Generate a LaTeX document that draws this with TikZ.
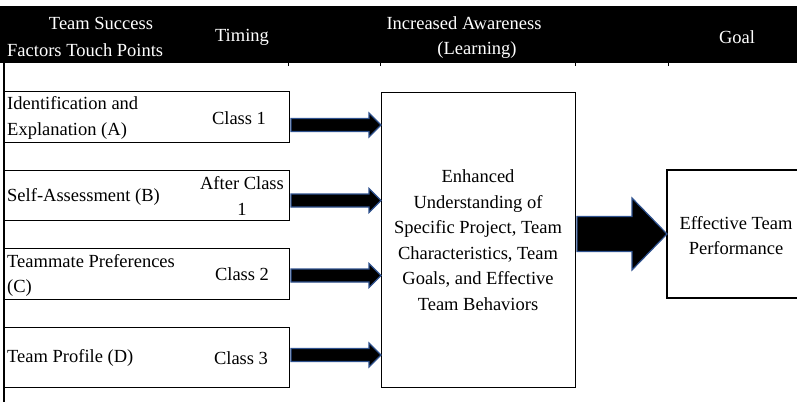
\documentclass[tikz,border=0pt]{standalone}
\usepackage{fontspec}
\setmainfont{Liberation Serif}
\definecolor{arrblue}{HTML}{2F528F}
\tikzset{
  every node/.style={font=\fontsize{18.5}{25.5}\selectfont, inner sep=0pt},
  box/.style={draw=black, line width=1.3pt},
  hdr/.style={text=white},
  fat/.style={fill=black, draw=arrblue, line width=1.2pt, line join=miter},
  tick/.style={draw=black, line width=0.9pt},
}
% x0 x1 y shafthalf headhalf headlen
\newcommand{\myfatarr}[6]{%
  \draw[fat] ({#1},{#3-#4}) -- ({#2-#6},{#3-#4}) -- ({#2-#6},{#3-#5}) -- ({#2},{#3})
    -- ({#2-#6},{#3+#5}) -- ({#2-#6},{#3+#4}) -- ({#1},{#3+#4}) -- cycle;}
\begin{document}
\begin{tikzpicture}[x=1pt,y=-1pt]
\useasboundingbox (0,0) rectangle (797,402);
% header band
\fill[black] (0,6) rectangle (797,63);
\node[hdr] (h1) at (101,23) {Team Success};
\node[hdr, anchor=west] (h2) at (7,50) {Factors Touch Points};
\node[hdr] (h3) at (242,37) {Timing};
\node[hdr] (h4) at (464,23) {Increased Awareness};
\node[hdr] (h5) at (477,50) {(Learning)};
\node[hdr] (h6) at (737,37) {Goal};
% table ticks and left rule
\draw[tick] (288,63) -- (288,66);
\draw[tick] (380,63) -- (380,66);
\draw[tick] (575,63) -- (575,66);
\draw[tick] (668,63) -- (668,66);
\draw[box] (4,63) -- (4,402);
% left boxes
\node[box, minimum width=285pt, minimum height=51pt, anchor=north west] (A) at (4,91) {};
\node[box, minimum width=285pt, minimum height=50pt, anchor=north west] (B) at (4,170) {};
\node[box, minimum width=285pt, minimum height=51pt, anchor=north west] (C) at (4,248) {};
\node[box, minimum width=285pt, minimum height=60pt, anchor=north west] (D) at (4,327) {};
\node[anchor=west, align=left] (tA) at (7,118) {Identification and\\Explanation (A)};
\node (cA) at (239,118) {Class 1};
\node[anchor=west] (tB) at (7,197) {Self-Assessment (B)};
\node[align=center] (cB) at (242,196) {After Class\\1};
\node[anchor=west, align=left] (tC) at (7,275.5) {Teammate Preferences\\(C)};
\node (cC) at (242,274) {Class 2};
\node[anchor=west] (tD) at (7,358) {Team Profile (D)};
\node (cD) at (241,358) {Class 3};
% middle box
\node[box, minimum width=194pt, minimum height=295pt, anchor=north west] (M) at (381,92) {};
\node[align=center] (tM) at (478,240) {Enhanced\\Understanding of\\Specific Project, Team\\Characteristics, Team\\Goals, and Effective\\Team Behaviors};
% goal box (open to the right)
\draw[box] (797,170) -- (667,170) -- (667,298) -- (797,298);
\node[align=center] (tG) at (736,235.5) {Effective Team\\Performance};
% arrows
\myfatarr{291}{381}{125}{6.5}{12}{12}
\myfatarr{291}{381}{200.5}{6.5}{12}{12}
\myfatarr{291}{381}{275.5}{6.5}{12}{12}
\myfatarr{291}{381}{355}{6.5}{12}{12}
\myfatarr{577}{667}{234}{17.5}{36}{35}
\end{tikzpicture}
\end{document}
